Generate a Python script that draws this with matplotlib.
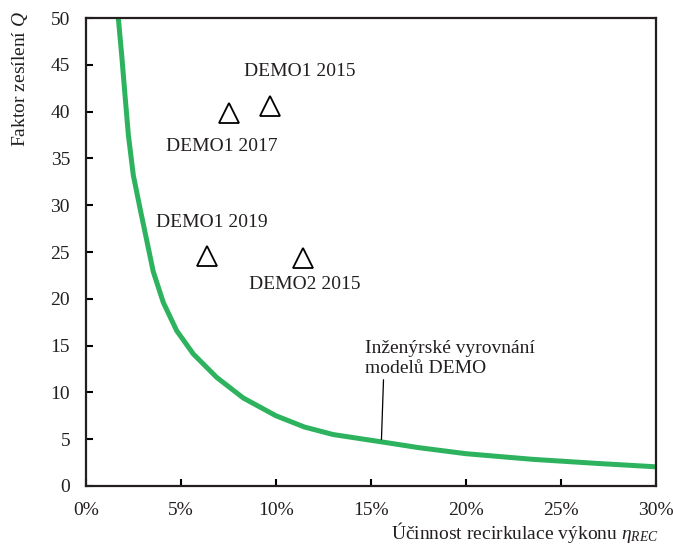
import numpy as np
import matplotlib
matplotlib.use("Agg")
import matplotlib.pyplot as plt
from matplotlib.ticker import PercentFormatter, MultipleLocator

plt.rcParams['font.family'] = ['Liberation Serif', 'DejaVu Serif']
plt.rcParams['mathtext.fontset'] = 'custom'
plt.rcParams['mathtext.rm'] = 'Liberation Serif'
plt.rcParams['mathtext.it'] = 'Liberation Serif:italic'

# engineering fit of DEMO models (eta_REC in %, Q)
curve_eta = [1.70, 1.88, 2.05, 2.23, 2.49, 2.84, 3.19, 3.54, 4.07, 4.77, 5.65,
             6.88, 8.28, 10.0, 11.5, 13.0, 15.6, 17.5, 20.0, 23.5, 27.0, 30.0]
curve_q = [50.0, 46.0, 41.8, 37.5, 33.2, 29.7, 26.3, 22.9, 19.6, 16.6, 14.1,
           11.6, 9.4, 7.5, 6.3, 5.5, 4.7, 4.1, 3.45, 2.85, 2.4, 2.05]

# DEMO design points
demo_names = ["DEMO1 2015", "DEMO1 2017", "DEMO1 2019", "DEMO2 2015"]
demo_eta = [9.68, 7.53, 6.35, 11.44]
demo_q = [40.6, 39.9, 24.6, 24.4]
label_pos = [(11.26, 44.3), (7.14, 36.25), (6.6, 28.2), (11.5, 21.5)]

fig = plt.figure(figsize=(6.73, 5.46), dpi=100)
ax = fig.add_axes([0.1278, 0.1099, 0.8469, 0.8571])

ax.plot(curve_eta, curve_q, color='#2db35e', lw=3.6, solid_capstyle='butt',
        solid_joinstyle='round')
ax.plot(demo_eta, demo_q, ls='none', marker='^', ms=14, mfc='none',
        mec='black', mew=1.3)

for name, (lx, ly) in zip(demo_names, label_pos):
    ax.text(lx, ly, name, fontsize=14, ha='center', va='center', color='#231f20')

ax.annotate("Inženýrské vyrovnání\nmodelů DEMO", xy=(15.55, 4.95), xytext=(14.68, 13.6),
            fontsize=14, ha='left', va='center', color='#231f20',
            arrowprops=dict(arrowstyle='-', color='black', lw=0.9,
                            shrinkA=0, shrinkB=0, relpos=(0.11, 0.0)))

ax.set_xlim(0, 30)
ax.set_ylim(0, 50)
ax.xaxis.set_major_locator(MultipleLocator(5))
ax.yaxis.set_major_locator(MultipleLocator(5))
ax.xaxis.set_major_formatter(PercentFormatter(xmax=100, decimals=0))
ax.tick_params(direction='in', length=5, width=1.5, labelsize=14,
               labelcolor='#231f20', pad=11.5)

for s in ax.spines.values():
    s.set_linewidth(1.6)
    s.set_color('#231f20')

ax.set_xlabel(r"Účinnost recirkulace výkonu $\mathit{\eta}_{\mathit{REC}}$",
              fontsize=14, color='#231f20', loc='right')
ax.set_ylabel(r"Faktor zesílení $\mathit{Q}$", fontsize=14, color='#231f20', loc='top')
ax.xaxis.set_label_coords(1.005, -0.072)
ax.yaxis.set_label_coords(-0.099, 1.015)

fig.savefig("out.png", dpi=100)
